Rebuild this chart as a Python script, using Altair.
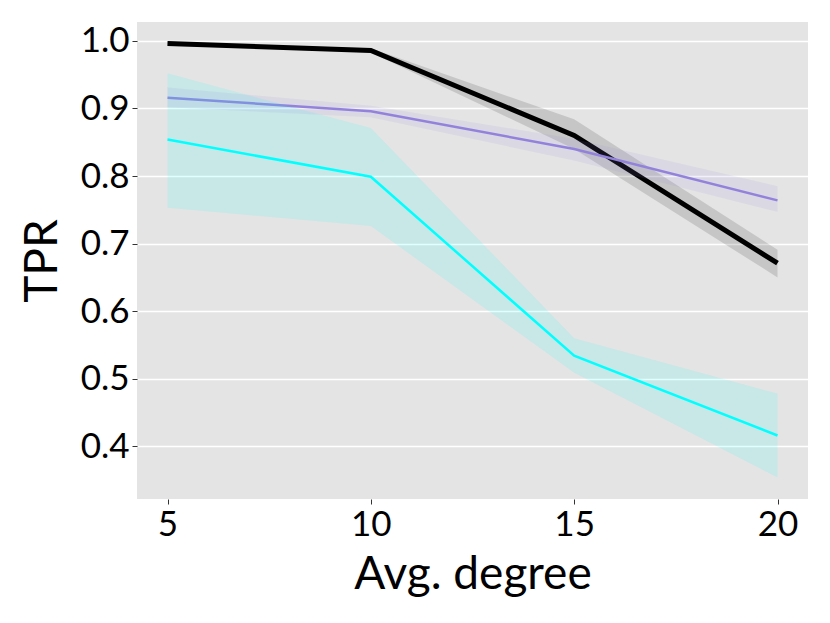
import altair as alt
import pandas as pd

degrees = [5, 10, 15, 20]
series_names = ["C", "B", "A"]
colors = {"A": "#00FFFF", "B": "#9382DC", "C": "#000000"}
band_opacity = {"A": 0.12, "B": 0.12, "C": 0.13}
line_widths = {"A": 2.5, "B": 2.5, "C": 5}

mean_c = [0.854, 0.799, 0.534, 0.416]
low_c = [0.753, 0.726, 0.509, 0.354]
high_c = [0.952, 0.871, 0.560, 0.478]

mean_b = [0.916, 0.896, 0.840, 0.764]
low_b = [0.902, 0.887, 0.823, 0.747]
high_b = [0.931, 0.904, 0.855, 0.785]

mean_a = [0.996, 0.986, 0.860, 0.671]
low_a = [0.993, 0.983, 0.840, 0.650]
high_a = [0.998, 0.989, 0.884, 0.691]

y_ticks = [0.4, 0.5, 0.6, 0.7, 0.8, 0.9, 1.0]
x_ticks = [5, 10, 15, 20]

data = {
    "A": (mean_c, low_c, high_c),
    "B": (mean_b, low_b, high_b),
    "C": (mean_a, low_a, high_a),
}

FONT = "Lato"
x_scale = alt.Scale(domain=[4.25, 20.75], nice=False, zero=False)
y_scale = alt.Scale(domain=[0.322, 1.028], nice=False, zero=False)

layers = []
for name in series_names:
    col, op, lw = colors[name], band_opacity[name], line_widths[name]
    m, lo, hi = data[name]
    df = pd.DataFrame({"deg": degrees, "mean": m, "low": lo, "high": hi})
    base = alt.Chart(df)
    band = base.mark_area(color=col, opacity=op).encode(
        x=alt.X("deg:Q", scale=x_scale),
        y=alt.Y("low:Q", scale=y_scale),
        y2="high:Q",
    )
    line = base.mark_line(color=col, strokeWidth=lw).encode(
        x=alt.X("deg:Q", scale=x_scale,
                axis=alt.Axis(values=x_ticks, title="Avg. degree", grid=False,
                              format="d")),
        y=alt.Y("mean:Q", scale=y_scale,
                axis=alt.Axis(values=y_ticks, title="TPR", grid=True,
                              format=".1f")),
    )
    layers += [band, line]

chart = alt.layer(*layers).properties(
    width=671, height=477,
    autosize=alt.AutoSizeParams(type="none"),
    padding={"left": 129, "top": 14, "right": 14, "bottom": 100},
).configure_view(
    fill="#E4E4E4", stroke=None
).configure_axis(
    domain=False,
    gridColor="white", gridWidth=1.5,
    tickColor="#333333", tickSize=5, tickWidth=1,
    labelFont=FONT, labelFontSize=35, labelColor="black",
    titleFont=FONT, titleFontSize=46, titleColor="black", titleFontWeight="normal",
    labelPadding=3,
).configure_axisY(
    titlePadding=14,
).configure_axisX(
    titlePadding=10,
)

chart.save("out.html", embed_options={"renderer": "svg", "actions": False})
